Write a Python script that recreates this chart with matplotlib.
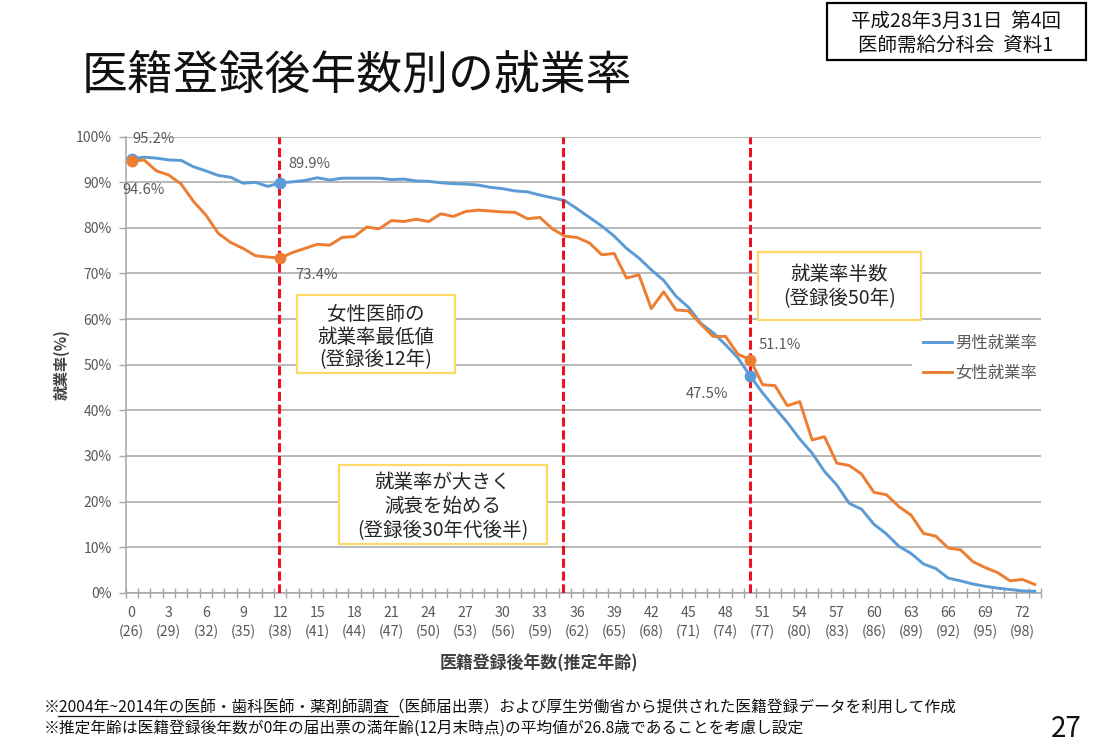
import matplotlib
matplotlib.use('Agg')
import matplotlib.pyplot as plt
from matplotlib.patches import Rectangle

plt.rcParams['font.family'] = ['Noto Sans CJK JP', 'DejaVu Sans']

W, H = 1093, 756

# 就業率 (%) 登録後 0〜73年
male_rate = [95.2, 95.5, 95.3, 94.9, 94.8, 93.4, 92.5, 91.5, 91.1, 89.8,
             90.0, 89.1, 89.9, 90.1, 90.4, 91.0, 90.5, 90.9, 90.9, 90.9,
             90.9, 90.6, 90.7, 90.3, 90.2, 89.9, 89.7, 89.6, 89.4, 88.9,
             88.6, 88.1, 87.9, 87.2, 86.6, 86.0, 84.2, 82.3, 80.4, 78.2,
             75.5, 73.4, 70.8, 68.5, 65.0, 62.6, 59.1, 57.0, 54.4, 51.5,
             47.5, 43.8, 40.5, 37.3, 33.7, 30.6, 26.6, 23.6, 19.6, 18.3,
             15.0, 12.9, 10.2, 8.6, 6.3, 5.3, 3.2, 2.6, 1.9, 1.4,
             1.0, 0.7, 0.4, 0.3]
female_rate = [94.6, 94.9, 92.5, 91.6, 89.6, 85.8, 82.8, 78.8, 76.8, 75.5,
               73.9, 73.6, 73.4, 74.6, 75.5, 76.4, 76.2, 77.9, 78.1, 80.2,
               79.8, 81.6, 81.4, 81.9, 81.4, 83.1, 82.5, 83.6, 83.9, 83.7,
               83.5, 83.4, 82.0, 82.3, 79.8, 78.2, 77.9, 76.7, 74.1, 74.4,
               69.0, 69.7, 62.3, 66.0, 62.0, 61.8, 58.9, 56.2, 56.2, 52.3,
               51.1, 45.6, 45.4, 41.0, 41.9, 33.5, 34.2, 28.4, 27.9, 26.0,
               22.0, 21.5, 18.9, 17.0, 13.0, 12.4, 9.8, 9.4, 6.8, 5.5,
               4.4, 2.6, 2.9, 1.8]
years = list(range(len(male_rate)))

tick_years = [0, 3, 6, 9, 12, 15, 18, 21, 24, 27, 30, 33, 36,
              39, 42, 45, 48, 51, 54, 57, 60, 63, 66, 69, 72]
tick_ages = [26, 29, 32, 35, 38, 41, 44, 47, 50, 53, 56, 59, 62,
             65, 68, 71, 74, 77, 80, 83, 86, 89, 92, 95, 98]
y_ticks = [0, 10, 20, 30, 40, 50, 60, 70, 80, 90, 100]
marked_years = [0, 12, 50]
red_lines = [11.9, 34.88, 49.95]

BLUE = '#5b9bd5'
ORANGE = '#ed7d31'
GREY = '#595959'
FONT_BOX = 14
FONT_LABEL = 10.6


def fx(x):
    return x / W


def fy(y):
    return 1 - y / H


def note_box(x0, y0, x1, y1, lines, line_ys):
    fig.add_artist(Rectangle((fx(x0), fy(y1)), (x1 - x0) / W, (y1 - y0) / H,
                             transform=fig.transFigure, facecolor='white',
                             edgecolor='#ffd966', linewidth=1.6, zorder=2))
    for line, y in zip(lines, line_ys):
        fig.text(fx((x0 + x1) / 2), fy(y), line, ha='center', va='center',
                 fontsize=FONT_BOX, color='#262626', zorder=3)


def data_label(year, values, dx, dy):
    ax.annotate(f'{values[year]:.1f}%', (year, values[year]), xytext=(dx, dy),
                textcoords='offset pixels', ha='center', va='center',
                fontsize=FONT_LABEL, color=GREY, zorder=6)


fig = plt.figure(figsize=(W / 100, H / 100), dpi=100, facecolor='white')
ax = fig.add_axes([fx(125.5), fy(592.7), (1041 - 125.5) / W, (592.7 - 136.7) / H])

ax.plot(years, male_rate, color=BLUE, lw=2.1, label='男性就業率', zorder=3)
ax.plot(years, female_rate, color=ORANGE, lw=2.1, label='女性就業率', zorder=3.1)
for x in red_lines:
    ax.axvline(x, color='#ee1122', lw=2.2, dashes=(3.0, 1.2), zorder=4)
ax.plot(marked_years, [male_rate[i] for i in marked_years], 'o', color=BLUE, ms=7.5, zorder=5)
ax.plot(marked_years, [female_rate[i] for i in marked_years], 'o', color=ORANGE, ms=7.5, zorder=5.1)

ax.set_xlim(-0.5, 73.5)
ax.set_ylim(0, 100)
ax.set_yticks(y_ticks, [f'{v}%' for v in y_ticks])
ax.set_xticks([i - 0.5 for i in range(75)], [''] * 75)
ax.set_xticks(tick_years, [f'{a}\n({b})' for a, b in zip(tick_years, tick_ages)], minor=True)
ax.tick_params(axis='x', which='major', direction='inout', length=7, width=1, color='#a6a6a6')
ax.tick_params(axis='x', which='minor', length=0, pad=9.5, labelsize=10.2, labelcolor=GREY)
ax.tick_params(axis='y', length=5, width=1, color='#a6a6a6', pad=5, labelsize=10, labelcolor=GREY)
for label in ax.get_xticklabels(minor=True):
    label.set_linespacing(1.42)
ax.grid(axis='y', color='#a6a6a6', lw=1.1)
ax.set_axisbelow(True)
for side in ['top', 'right']:
    ax.spines[side].set_visible(False)
for side in ['left', 'bottom']:
    ax.spines[side].set_color('#a6a6a6')
    ax.spines[side].set_linewidth(1.1)

# データラベル
data_label(0, male_rate, 22, 20)
data_label(0, female_rate, 12, -29)
data_label(12, male_rate, 29, 19)
data_label(12, female_rate, 36, -17)
data_label(50, female_rate, 29, 15)
data_label(50, male_rate, -43, -18)

leg = ax.legend(loc='center left', bbox_to_anchor=(fx(912), fy(358.5)), bbox_transform=fig.transFigure,
                fontsize=11.8, labelcolor=GREY, handlelength=1.75, handletextpad=0.2,
                labelspacing=0.78, borderaxespad=0, borderpad=0.67, framealpha=1,
                facecolor='white', edgecolor='none', fancybox=False)

fig.text(fx(62), fy(365), '就業率(%)', rotation=90, ha='center', va='center',
         fontsize=10.8, fontweight='bold', color='#404040')
fig.text(fx(539), fy(663), '医籍登録後年数(推定年齢)', ha='center', va='center',
         fontsize=12.2, fontweight='bold', color='#404040')

note_box(296.5, 295, 454.5, 373, ['女性医師の', '就業率最低値', '(登録後12年)'], [314, 337, 360])
note_box(758, 252, 920.5, 320, ['就業率半数', '(登録後50年)'], [275, 299])
note_box(339, 465, 547, 544, ['就業率が大きく', '減衰を始める', '(登録後30年代後半)'], [482, 506, 531])

# タイトルと資料ラベル
fig.text(fx(82), fy(76), '医籍登録後年数別の就業率', ha='left', va='center', fontsize=33, color='#111111')
fig.add_artist(Rectangle((fx(827), fy(60)), 259 / W, 57 / H, transform=fig.transFigure,
                         facecolor='white', edgecolor='black', linewidth=1.6))
fig.text(fx(956), fy(21), '平成28年3月31日  第4回', ha='center', va='center', fontsize=14, color='#111111')
fig.text(fx(956), fy(45), '医師需給分科会  資料1', ha='center', va='center', fontsize=14, color='#111111')

# 脚注
fig.text(fx(44), fy(708), '※2004年~2014年の医師・歯科医師・薬剤師調査（医師届出票）および厚生労働省から提供された医籍登録データを利用して作成',
         ha='left', va='center', fontsize=11.3, color='#111111')
fig.text(fx(44), fy(728), '※推定年齢は医籍登録後年数が0年の届出票の満年齢(12月末時点)の平均値が26.8歳であることを考慮し設定',
         ha='left', va='center', fontsize=11.3, color='#111111')
fig.add_artist(plt.Line2D([fx(58), fx(398)], [fy(716), fy(716)], color='#111111', lw=0.9))
fig.text(fx(1066), fy(729), '27', ha='center', va='center', fontsize=20, color='#111111')

fig.savefig('out.png', dpi=100)
